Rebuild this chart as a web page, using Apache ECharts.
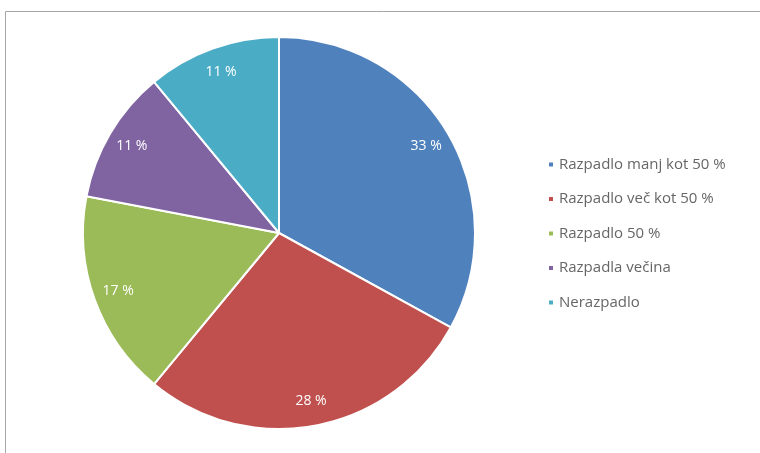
<!DOCTYPE html>
<html><head><meta charset="utf-8">
<script src="https://cdn.jsdelivr.net/npm/echarts@6/dist/echarts.min.js"></script>
<style>html,body{margin:0;padding:0;background:#fff}#c{width:760px;height:453px}</style>
</head><body><div id="c"></div>
<script>
const categories = ['Razpadlo manj kot 50 %', 'Razpadlo več kot 50 %', 'Razpadlo 50 %', 'Razpadla večina', 'Nerazpadlo'];
const values = [33, 28, 17, 11, 11];
const colors = ['#4F81BD', '#C0504D', '#9BBB59', '#8064A2', '#4BACC6'];

const data = categories.map((n, i) => ({ name: n, value: values[i] }));
const chart = echarts.init(document.getElementById('c'), null, { renderer: 'canvas' });
chart.setOption({
  animation: false,
  backgroundColor: '#ffffff',
  color: colors,
  graphic: [{
    type: 'rect', shape: { x: 5.5, y: 11.5, width: 900, height: 600 },
    style: { fill: 'none', stroke: '#a6a6a6', lineWidth: 1 }, silent: true
  }],
  legend: {
    orient: 'vertical', left: 542, top: 152,
    icon: 'rect', itemWidth: 6, itemHeight: 6, itemGap: 19.5,
    textStyle: { fontFamily: 'Open Sans', fontSize: 15, color: '#666666' },
    data: categories
  },
  series: [{
    type: 'pie', center: [279, 233], radius: [0, 196], startAngle: 90, clockwise: true,
    itemStyle: { borderColor: '#ffffff', borderWidth: 2 },
    label: { show: false }, labelLine: { show: false },
    data: data, silent: true
  }, {
    type: 'pie', center: [279, 233], radius: [140, 196], startAngle: 90, clockwise: true,
    itemStyle: { color: 'rgba(0,0,0,0)', borderWidth: 0 },
    label: { show: true, position: 'inside', formatter: '{c} %', color: '#ffffff',
             fontFamily: 'Open Sans', fontSize: 14 },
    labelLine: { show: false }, legendHoverLink: false,
    data: data, silent: true
  }]
});
</script></body></html>
